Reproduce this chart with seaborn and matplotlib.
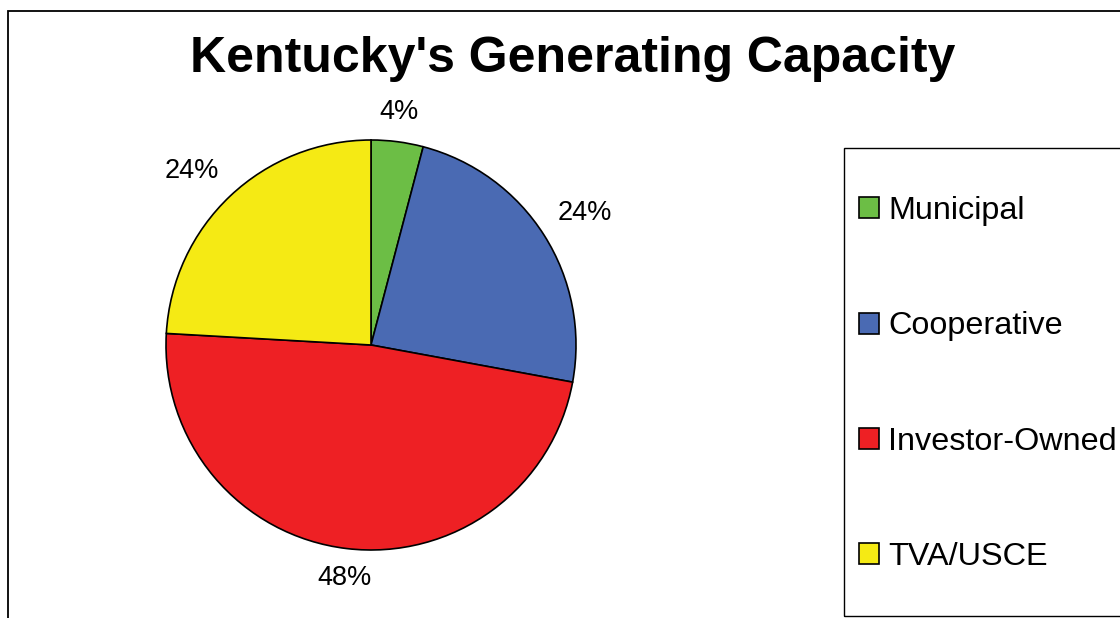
import matplotlib
matplotlib.use("Agg")
import matplotlib.pyplot as plt
import seaborn as sns
import numpy as np
from matplotlib.patches import Rectangle, Patch

# data
categories = ["Municipal", "Cooperative", "Investor-Owned", "TVA/USCE"]
shares = [4.1, 23.8, 48.0, 24.1]
colors = ["#6CBE45", "#4A6AB3", "#EE2024", "#F5EA14"]
title = "Kentucky's Generating Capacity"

sns.set_theme(style="white")
plt.rcParams['font.family'] = ['Liberation Sans', 'DejaVu Sans']
plt.rcParams['text.color'] = 'black'

W, H = 1120, 618
fig = plt.figure(figsize=(W / 100, H / 100), dpi=100)
fig.patch.set_facecolor("white")

# outer frame (runs off the right and bottom edges)
fig.patches.append(Rectangle((8 / W, -0.1), 1.2, 1.1 - 11 / H, transform=fig.transFigure,
                             fill=False, edgecolor="black", linewidth=1.3))

# pie centred at (371, 345) px with radius 205 px
cx, cy, r = 371, 345, 205
ax = fig.add_axes([(cx - r) / W, (H - cy - r) / H, 2 * r / W, 2 * r / H])
wedges, texts, autotexts = ax.pie(
    shares, colors=colors, startangle=90, counterclock=False,
    autopct=lambda p: "%.0f%%" % p, pctdistance=1.15,
    wedgeprops=dict(edgecolor="black", linewidth=1.2),
    textprops=dict(fontsize=19.5, color="black"))
ax.set_xlim(-1, 1)
ax.set_ylim(-1, 1)
ax.set_aspect("equal")
ax.axis("off")

# put the labels just outside the rim, anchored by their nearest corner
for w, t in zip(wedges, autotexts):
    a = np.deg2rad((w.theta1 + w.theta2) / 2)
    c, s = np.cos(a), np.sin(a)
    t.set_position((1.08 * c, 1.08 * s))
    t.set_ha("left" if c > 0.3 else "right" if c < -0.3 else "center")
    t.set_va("bottom" if s > 0.3 else "top" if s < -0.3 else "center")

fig.text(573 / W, 1 - 59 / H, title, ha="center", va="center",
         fontsize=36, fontweight="bold", color="black")

# legend box
fig.patches.append(Rectangle((844 / W, 1 - 616 / H), 0.5, (616 - 148) / H,
                             transform=fig.transFigure, fill=False,
                             edgecolor="black", linewidth=1.0))
handles = [Patch(facecolor=c, edgecolor="black", linewidth=1.2) for c in colors]
leg = fig.legend(handles, categories, loc="upper left",
                 bbox_to_anchor=(859 / W, 1 - 196 / H), frameon=False,
                 fontsize=23.3, handlelength=0.62, handleheight=0.62,
                 handletextpad=0.28, labelspacing=2.64, borderpad=0, borderaxespad=0)
for t in leg.get_texts():
    t.set_color("black")

fig.savefig("out.png", dpi=100)
